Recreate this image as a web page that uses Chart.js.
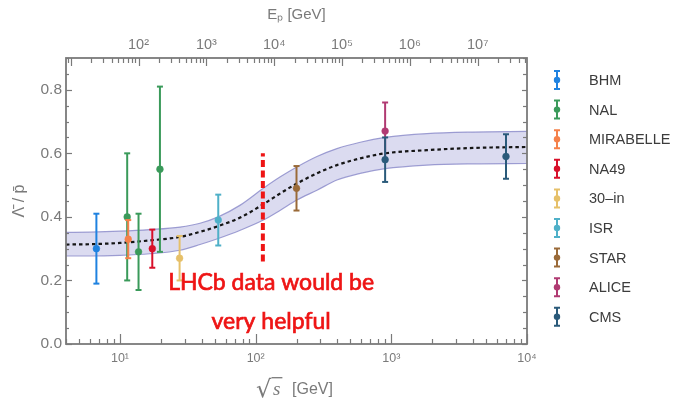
<!DOCTYPE html>
<html><head><meta charset="utf-8">
<script src="https://cdn.jsdelivr.net/npm/chart.js@4/dist/chart.umd.min.js"></script>
<style>html,body{margin:0;padding:0;background:#fff;}#wrap{width:673px;height:401px;}</style>
</head><body><div id="wrap"><canvas id="c" width="673" height="401"></canvas></div>
<script>
// ---- data ----
const experiments = ['BHM','NAL','MIRABELLE','NA49','30–in','ISR','STAR','ALICE','CMS'];
const expColors = ['#1f82e0','#3a9a5a','#f5814a','#d8102a','#e6c069','#4fb0c8','#9a6a38','#b03a72','#2a5a7a'];

const pointExperiment = ['BHM','NAL','MIRABELLE','NAL','NA49','NAL','30–in','ISR','STAR','ALICE','CMS','CMS'];
const pointSqrtS     = [6.7, 11.3, 11.5, 13.7, 17.3, 19.7, 27.5, 53, 200, 900, 900, 7000];
const pointRatio     = [0.30, 0.40, 0.33, 0.29, 0.30, 0.55, 0.27, 0.39, 0.49, 0.67, 0.58, 0.59];
const pointErrLow    = [0.19, 0.20, 0.27, 0.17, 0.24, 0.29, 0.20, 0.31, 0.42, 0.58, 0.51, 0.52];
const pointErrHigh   = [0.41, 0.60, 0.39, 0.41, 0.36, 0.81, 0.34, 0.47, 0.56, 0.76, 0.65, 0.66];

const fitSqrtS = [4, 6, 10, 16.6, 27.7, 38.9, 53, 77, 114, 152, 201, 283, 397, 590, 900, 1830, 4000, 10000];
const fitMid   = [0.313,0.314,0.318,0.326,0.337,0.353,0.371,0.398,0.44,0.474,0.505,0.537,0.563,0.584,0.600,0.610,0.617,0.620];
const fitHigh  = [0.351,0.352,0.355,0.360,0.368,0.380,0.400,0.437,0.49,0.526,0.557,0.590,0.615,0.635,0.650,0.662,0.667,0.669];
const fitLow   = [0.277,0.277,0.279,0.284,0.295,0.313,0.332,0.358,0.39,0.421,0.453,0.484,0.516,0.537,0.552,0.563,0.567,0.568];

const lhcbSqrtS = [113, 113];
const lhcbRatio = [0.26, 0.60];
const noteLines = ['LHCb data would be', 'very helpful'];
const noteSqrtS = 130;
const noteRatio = [0.192, 0.069];

const bottomTickValues = [10, 100, 1000, 10000];
const bottomTickLabels = ['10¹','10²','10³','10⁴'];
const topTickValues = [1e2, 1e3, 1e4, 1e5, 1e6, 1e7];
const topTickLabels = ['10²','10³','10⁴','10⁵','10⁶','10⁷'];
const yTickValues = [0, 0.2, 0.4, 0.6, 0.8];
const yTickLabels = ['0.0','0.2','0.4','0.6','0.8'];

const xMin = 4, xMax = 10000, yMin = 0, yMax = 0.9;
const M_P = 0.938;                         // proton mass [GeV]
const toEp = v => v * v / (2 * M_P);       // fixed-target beam energy for given sqrt(s)

// ---- build datasets ----
const xy = (xs, ys) => xs.map((x, i) => ({x, y: ys[i]}));
const datasets = [];
datasets.push({type:'line', data: xy(fitSqrtS, fitHigh), borderColor:'rgba(135,135,200,0.8)', borderWidth:1.2,
  backgroundColor:'rgba(150,150,210,0.34)', fill:'+1', pointRadius:0, cubicInterpolationMode:'monotone', order:100});
datasets.push({type:'line', data: xy(fitSqrtS, fitLow), borderColor:'rgba(135,135,200,0.8)', borderWidth:1.2,
  fill:false, pointRadius:0, cubicInterpolationMode:'monotone', order:99});
datasets.push({type:'line', data: xy(fitSqrtS, fitMid), borderColor:'#151515', borderWidth:2.2, borderDash:[3.5,3],
  fill:false, pointRadius:0, cubicInterpolationMode:'monotone', order:90});
datasets.push({type:'line', data: xy(lhcbSqrtS, lhcbRatio), borderColor:'#ee1515', borderWidth:4, borderDash:[7,3.5],
  fill:false, pointRadius:0, order:1});

pointSqrtS.forEach((sx, i) => {
  const e = experiments.indexOf(pointExperiment[i]);
  const col = expColors[e];
  datasets.push({type:'line', data:[{x:sx, y:pointErrLow[i]}, {x:sx, y:pointErrHigh[i]}],
    borderColor:col, borderWidth:2, fill:false, pointStyle:'line', pointRadius:3,
    pointBorderColor:col, pointBackgroundColor:col, pointBorderWidth:2, order:50 - e*2});
  datasets.push({type:'scatter', data:[{x:sx, y:pointRatio[i]}], pointRadius:3.4, pointStyle:'circle',
    backgroundColor:col, borderColor:col, borderWidth:0.5, order:49 - e*2});
});
datasets.forEach(d => { d.xAxisID = 'x'; d.yAxisID = 'y'; });

const labelFor = (vals, labs) => v => {
  const i = vals.findIndex(t => Math.abs(t - v) / Math.max(Math.abs(t), 1e-9) < 1e-6 || t === v);
  return i >= 0 ? labs[i] : '';
};

const AX = '#7a7a7a';
const decor = {
  id:'decor',
  afterDatasetsDraw(chart) {
    const ctx = chart.ctx, {left, right, top, bottom} = chart.chartArea;
    const xs = chart.scales.x, x2 = chart.scales.x2, ys = chart.scales.y;
    ctx.save();
    ctx.strokeStyle = AX; ctx.lineWidth = 1.2;
    const seg = (a, b, c, d) => { ctx.beginPath(); ctx.moveTo(a, b); ctx.lineTo(c, d); ctx.stroke(); };
    for (let e = 0; e <= 4; e++) for (let k = 1; k <= 9; k++) {
      const v = k * Math.pow(10, e); if (v < xMin || v > xMax) continue;
      const px = Math.round(xs.getPixelForValue(v)) + 0.5;
      seg(px, bottom, px, bottom - (k === 1 ? 10 : 5));
    }
    for (let e = 0; e <= 8; e++) for (let k = 1; k <= 9; k++) {
      const v = k * Math.pow(10, e); if (v < x2.min || v > x2.max) continue;
      const px = Math.round(x2.getPixelForValue(v)) + 0.5;
      seg(px, top, px, top + (k === 1 ? 8 : 5));
    }
    for (let j = 0; j <= 18; j++) {
      const v = j * 0.05; if (v > yMax + 1e-9) continue;
      const py = Math.round(ys.getPixelForValue(v)) + 0.5;
      const major = j % 4 === 0;
      seg(left, py, left + (major ? 6 : 3), py);
      seg(right, py, right - (major ? 5 : 4), py);
    }
    ctx.lineWidth = 1.8;
    ctx.strokeRect(left, top, right - left, bottom - top);
    ctx.restore();
  },
  afterDraw(chart) {
    const ctx = chart.ctx;
    const xs = chart.scales.x, ys = chart.scales.y;
    ctx.save();
    // legend
    experiments.forEach((name, i) => {
      const cy = 80 + i * 29.6, cx = 557, col = expColors[i];
      ctx.strokeStyle = col; ctx.fillStyle = col; ctx.lineWidth = 2;
      ctx.beginPath(); ctx.moveTo(cx, cy - 9); ctx.lineTo(cx, cy + 9);
      ctx.moveTo(cx - 3, cy - 9); ctx.lineTo(cx + 3, cy - 9);
      ctx.moveTo(cx - 3, cy + 9); ctx.lineTo(cx + 3, cy + 9); ctx.stroke();
      ctx.beginPath(); ctx.arc(cx, cy, 3.2, 0, Math.PI * 2); ctx.fill();
      ctx.fillStyle = '#3c3c3c'; ctx.font = "14.5px 'Liberation Sans', Arial, sans-serif";
      ctx.textAlign = 'left'; ctx.textBaseline = 'middle';
      ctx.fillText(name, 589, cy + 1);
    });
    // note text
    ctx.fillStyle = '#ee1515'; ctx.strokeStyle = '#ee1515'; ctx.lineWidth = 0.7;
    ctx.textAlign = 'center'; ctx.textBaseline = 'middle';
    ctx.font = "24px Lato, 'Open Sans', sans-serif";
    const w0 = ctx.measureText(noteLines[0]).width;
    const fs = 24 * 206 / w0;
    ctx.font = fs.toFixed(2) + "px Lato, 'Open Sans', sans-serif";
    const nx = xs.getPixelForValue(noteSqrtS);
    noteLines.forEach((t, i) => { const py = ys.getPixelForValue(noteRatio[i]); ctx.fillText(t, nx, py); ctx.strokeText(t, nx, py); });
    // bottom axis title: sqrt(s) [GeV]
    ctx.fillStyle = AX; ctx.strokeStyle = AX; ctx.textAlign = 'left'; ctx.textBaseline = 'alphabetic';
    const base = 395;
    ctx.font = "24px 'DejaVu Sans', sans-serif";
    const rx = 256;
    ctx.fillText('√', rx, base + 2);
    const m = ctx.measureText('√');
    const rTop = base + 2 - m.actualBoundingBoxAscent;
    const rRight = rx + m.actualBoundingBoxRight;
    ctx.font = "italic 19px 'Liberation Serif', serif";
    ctx.fillText('s', rRight + 1, base);
    const sW = ctx.measureText('s').width;
    ctx.lineWidth = 1.3;
    ctx.beginPath(); ctx.moveTo(rRight - 0.5, rTop + 0.7); ctx.lineTo(rRight + sW + 3, rTop + 0.7); ctx.stroke();
    ctx.font = "16px 'Liberation Sans', Arial, sans-serif";
    ctx.fillText('[GeV]', 292, base - 1);
    ctx.restore();
  }
};

Chart.defaults.font.family = "'Liberation Sans', Arial, sans-serif";
Chart.defaults.color = AX;

new Chart(document.getElementById('c'), {
  type:'scatter',
  data:{datasets},
  options:{
    responsive:false, animation:false, devicePixelRatio:1, events:[],
    layout:{padding:{left:0, right:146, top:0, bottom:0}},
    plugins:{legend:{display:false}, tooltip:{enabled:false}},
    scales:{
      x:{type:'logarithmic', position:'bottom', min:xMin, max:xMax,
        afterFit: s => { s.height = 57; },
        afterBuildTicks: s => { s.ticks = bottomTickValues.map(v => ({value:v})); },
        ticks:{callback: labelFor(bottomTickValues, bottomTickLabels), autoSkip:false, maxRotation:0, padding:7, font:{size:12.5}, color:AX},
        grid:{display:false, drawTicks:false}, border:{display:false}},
      x2:{type:'logarithmic', axis:'x', position:'top', min:toEp(xMin), max:toEp(xMax),
        afterFit: s => { s.height = 58; },
        afterBuildTicks: s => { s.ticks = topTickValues.map(v => ({value:v})); },
        ticks:{callback: labelFor(topTickValues, topTickLabels), autoSkip:false, maxRotation:0, padding:4, font:{size:14.5}, color:AX},
        grid:{display:false, drawTicks:false}, border:{display:false},
        title:{display:true, text:'Eₚ [GeV]', color:AX, font:{size:15}, padding:{top:6, bottom:0}}},
      y:{type:'linear', position:'left', min:yMin, max:yMax,
        afterFit: s => { s.width = 66; },
        afterBuildTicks: s => { s.ticks = yTickValues.map(v => ({value:v})); },
        ticks:{callback: labelFor(yTickValues, yTickLabels), autoSkip:false, padding:4, font:{size:15.5}, color:AX},
        grid:{display:false, drawTicks:false}, border:{display:false},
        title:{display:true, text:'Λ̄ / p̄', color:AX, font:{size:16}, padding:{top:10, bottom:0}}}
    }
  },
  plugins:[decor]
});
</script></body></html>
